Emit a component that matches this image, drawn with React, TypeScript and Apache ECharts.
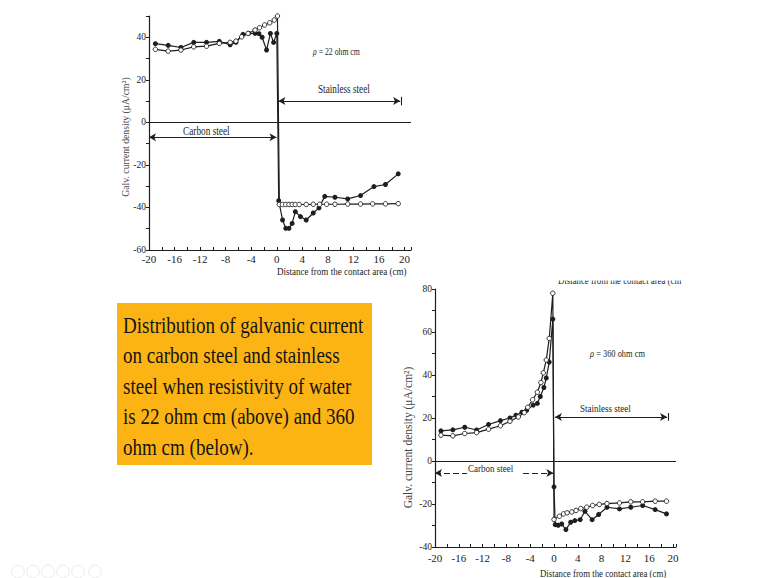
import React, { useEffect, useRef } from "react";
import * as echarts from "echarts";

// ---------- data ----------
// Top chart, resistivity 22 ohm cm
const top22FilledX = [-19, -17, -15, -13, -11, -9, -7.3, -6.4, -5.3, -4.4, -3.4, -2.8, -2.3, -1.6, -1, -0.5, 0, 0.3, 0.9, 1.4, 1.9, 2.4, 2.9, 3.7, 4.6, 5.7, 6.6, 7.5, 9.1, 11.1, 13.1, 15.2, 17, 19];
const top22FilledY = [37, 36.2, 35.2, 37.6, 37.6, 38.1, 36.5, 37.6, 41.4, 41.8, 41.8, 41.7, 40, 34, 41.8, 37.6, 41.8, -36.8, -45.9, -49.8, -49.8, -47.5, -42, -44.3, -45.9, -42.6, -40.2, -34.8, -35.2, -36, -34.4, -30.2, -29.2, -24.2];
const top22OpenX = [-19, -17, -15, -13, -11, -9, -7.3, -6.4, -5.5, -4.5, -3.4, -2.7, -1.9, -1.1, -0.4, 0.1, 0.4, 0.9, 1.4, 1.9, 2.4, 2.9, 3.5, 4.6, 5.7, 6.7, 7.8, 9.1, 11.1, 13.1, 15, 17, 19];
const top22OpenY = [34.3, 33.5, 34, 35.5, 35.8, 37.1, 37.6, 38.2, 40.2, 41.8, 43.4, 44.5, 45.8, 46.8, 48.1, 50, -38.6, -38.6, -38.6, -38.6, -38.6, -38.6, -38.6, -38.6, -38.5, -38.5, -38.5, -38.5, -38.4, -38.4, -38.3, -38.3, -38.2];

// Bottom chart, resistivity 360 ohm cm
const bot360FilledX = [-19, -17, -15, -13, -11, -9, -7.4, -6.4, -5.4, -4.6, -3.5, -2.8, -2.3, -1.7, -1.3, -0.8, -0.2, 0, 0.2, 0.7, 1.3, 2, 2.8, 3.5, 4.4, 5.2, 6.4, 7.5, 8.9, 11, 12.9, 14.9, 17, 18.9];
const bot360FilledY = [14, 14.5, 15.7, 14.4, 17, 18.8, 20, 21.3, 22.7, 23.6, 26, 26.8, 30, 34.2, 38.6, 46, 66, -12, -29.6, -29.9, -29.3, -31.9, -28.5, -27.7, -27.3, -23.4, -27.3, -24.9, -21.5, -22.3, -21.5, -20.7, -22.6, -24.6];
const bot360OpenX = [-19, -17, -15, -13, -11, -9, -7.4, -6, -5, -4.4, -3.6, -2.8, -2.2, -1.8, -1.3, -0.8, -0.2, 0, 0.9, 1.6, 2.2, 3, 3.7, 4.5, 5.5, 6.5, 7.6, 8.9, 11, 12.9, 14.9, 17, 18.9];
const bot360OpenY = [12, 11.7, 12.8, 13.2, 14.8, 16.4, 18.5, 20.5, 22.5, 25, 28.5, 32, 36.5, 41, 47, 57, 78, -27.2, -25.7, -24.6, -24.1, -23.7, -23, -22.1, -21.5, -20.7, -20.2, -19.8, -19.5, -19, -19, -18.7, -18.7];

// axis ranges / ticks
const topYRange = [-60, 50];
const botYRange = [-40, 80];
const topXRange = [-20, 21];
const botXRange = [-20, 20.5];
const yStep = 10;
const xStep = 2;

const boxLines = [
  "Distribution of galvanic current",
  "on carbon steel and stainless",
  "steel when resistivity of water",
  "is 22 ohm cm (above) and 360",
  "ohm cm (below).",
];

const FONT = "'Liberation Serif','Times New Roman',serif";
const INK = "#1e1e1e";

const zip = (xs: number[], ys: number[]) => xs.map((x, i) => [x, ys[i]]);

function arrowPair(a: number[], b: number[], sa: string, sb: string, type: any = "solid") {
  return [
    { coord: a, symbol: sa, lineStyle: { type } },
    { coord: b, symbol: sb },
  ];
}

export default function App() {
  const ref = useRef<HTMLDivElement>(null);

  useEffect(() => {
    if (!ref.current) return;
    const chart = echarts.init(ref.current, undefined, { renderer: "svg" });

    const xAxisBase = (gi: number, range: number[], labelMargin: number) => ({
      type: "value",
      gridIndex: gi,
      min: range[0],
      max: range[1],
      interval: xStep,
      axisLine: { show: true, onZero: false, lineStyle: { color: INK, width: 1.2 } },
      axisTick: { show: true, inside: true, length: 3, lineStyle: { color: INK } },
      splitLine: { show: false },
      axisLabel: {
        margin: labelMargin,
        fontFamily: FONT,
        fontSize: 11,
        color: "#222",
        formatter: (v: number) => (Math.abs(v % 4) < 1e-9 && v <= 20 ? String(v) : ""),
      },
    });
    const yAxisBase = (gi: number, range: number[]) => ({
      type: "value",
      gridIndex: gi,
      min: range[0],
      max: range[1],
      interval: yStep,
      axisLine: { show: true, onZero: false, lineStyle: { color: INK, width: 1.2 } },
      axisTick: { show: true, inside: false, length: 3, lineStyle: { color: INK } },
      splitLine: { show: false },
      axisLabel: {
        margin: 3,
        fontFamily: FONT,
        fontSize: 9.5,
        color: "#222",
        formatter: (v: number) => (Math.abs(v % 20) < 1e-9 ? String(v) : ""),
      },
    });

    const lineCommon = {
      type: "line",
      symbolSize: 5,
      lineStyle: { color: INK, width: 1.2 },
      silent: true,
      z: 3,
    };

    const openStyle = { color: "#ffffff", borderColor: INK, borderWidth: 0.9 };

    const markLineCommon = (data: any[]) => ({
      silent: true,
      symbol: ["none", "none"],
      symbolSize: [6, 7],
      label: { show: false },
      lineStyle: { color: INK, width: 1.1, type: "solid" },
      emphasis: { disabled: true },
      data,
    });

    const text = (t: string, x: number, y: number, size: number, extra: any = {}) => ({
      type: "text",
      x,
      y,
      scaleX: extra.scaleX ?? 0.8,
      rotation: extra.rotation ?? 0,
      z: 10,
      style: {
        text: t,
        fontFamily: FONT,
        fontSize: size,
        fill: extra.fill ?? INK,
        align: extra.align ?? "left",
        verticalAlign: "middle",
        rich: { i: { fontStyle: "italic", fontFamily: FONT, fontSize: size, fill: extra.fill ?? INK } },
      },
    });

    const toolbarX = [18, 33, 48, 63, 78, 95];

    const option: any = {
      animation: false,
      backgroundColor: "#ffffff",
      grid: [
        { left: 149, top: 16, width: 262, height: 234 },
        { left: 435, top: 289, width: 241, height: 258 },
      ],
      xAxis: [xAxisBase(0, topXRange, 3), xAxisBase(1, botXRange, 5)],
      yAxis: [yAxisBase(0, topYRange), yAxisBase(1, botYRange)],
      series: [
        {
          ...lineCommon,
          xAxisIndex: 0,
          yAxisIndex: 0,
          symbol: "circle",
          itemStyle: { color: INK },
          data: zip(top22FilledX, top22FilledY),
          markLine: markLineCommon([
            { yAxis: 0 },
            arrowPair([0.25, 10], [19.3, 10], "arrow", "arrow"),
            arrowPair([19.45, 12], [19.45, 8], "none", "none"),
            arrowPair([-20, -7], [-0.05, -7], "arrow", "arrow"),
          ]),
        },
        {
          ...lineCommon,
          xAxisIndex: 0,
          yAxisIndex: 0,
          symbol: "circle",
          symbolSize: 4.5,
          itemStyle: openStyle,
          data: zip(top22OpenX, top22OpenY),
        },
        {
          ...lineCommon,
          xAxisIndex: 1,
          yAxisIndex: 1,
          symbol: "circle",
          itemStyle: { color: INK },
          data: zip(bot360FilledX, bot360FilledY),
          markLine: markLineCommon([
            { yAxis: 0 },
            arrowPair([0.15, 20.5], [19, 20.5], "arrow", "arrow"),
            arrowPair([19.15, 22.3], [19.15, 18.7], "none", "none"),
            arrowPair([-20, -5.6], [-14.6, -5.6], "arrow", "none", [6, 3]),
            arrowPair([-5.2, -5.6], [-0.1, -5.6], "none", "arrow", [6, 3]),
          ]),
        },
        {
          ...lineCommon,
          xAxisIndex: 1,
          yAxisIndex: 1,
          symbol: "circle",
          symbolSize: 4.5,
          itemStyle: openStyle,
          data: zip(bot360OpenX, bot360OpenY),
        },
      ],
      graphic: [
        // yellow caption box
        {
          type: "rect",
          shape: { x: 117, y: 303, width: 255, height: 162 },
          style: { fill: "#FCB414" },
          z: 5,
        },
        ...boxLines.map((l, i) => text(l, 123, 325 + i * 30.5, 23.5, { scaleX: 0.81, fill: "#151515" })),
        // top chart annotations
        text("{i|ρ} = 22 ohm cm", 313, 52, 9.7),
        text("Stainless steel", 318, 89, 11.5),
        text("Carbon steel", 183, 131, 11.6),
        text("Distance from the contact area (cm)", 277, 271.5, 11.3),
        text("Galv. current density (μA/cm²)", 125, 137, 9.7, { scaleX: 1, rotation: Math.PI / 2, align: "center", fill: "#444" }),
        // bottom chart annotations
        text("Distance from the contact area (cm", 558, 280.5, 11),
        {
          type: "rect",
          shape: { x: 540, y: 262, width: 180, height: 18.5 },
          style: { fill: "#ffffff" },
          z: 11,
        },
        text("{i|ρ} = 360 ohm cm", 590, 354, 10.5),
        text("Stainless steel", 580, 408, 11.25),
        text("Carbon steel", 468, 468, 11.25),
        text("Distance from the contact area (cm)", 540, 573, 11),
        text("Galv. current density (μA/cm²)", 408, 437.5, 11.5, { scaleX: 1, rotation: Math.PI / 2, align: "center", fill: "#444" }),
        // faint player toolbar
        ...toolbarX.map((cx) => ({
          type: "circle",
          shape: { cx, cy: 571.5, r: 6.3 },
          style: { fill: "none", stroke: "#ebebeb", lineWidth: 1 },
          z: 1,
        })),
      ],
    };

    chart.setOption(option);
    return () => chart.dispose();
  }, []);

  return (
    <div
      ref={ref}
      style={{ position: "absolute", left: 0, top: 0, width: 767, height: 578, background: "#fff" }}
    />
  );
}
